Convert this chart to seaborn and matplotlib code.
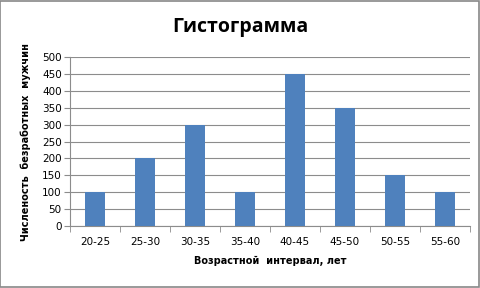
import matplotlib
matplotlib.use("Agg")
import matplotlib.pyplot as plt
import seaborn as sns
import pandas as pd
from matplotlib.patches import Rectangle

categories = ["20-25", "25-30", "30-35", "35-40", "40-45", "45-50", "50-55", "55-60"]
values = [100, 200, 300, 100, 450, 350, 150, 100]
yticks = [0, 50, 100, 150, 200, 250, 300, 350, 400, 450, 500]

sns.set_style("white")
plt.rcParams['font.family'] = ['DejaVu Sans']
plt.rcParams['text.color'] = 'black'
plt.rcParams['axes.labelcolor'] = 'black'
plt.rcParams['xtick.color'] = 'black'
plt.rcParams['ytick.color'] = 'black'

df = pd.DataFrame({"cat": categories, "val": values})

fig = plt.figure(figsize=(4.8, 2.88), dpi=100)
ax = fig.add_axes([0.146, 0.215, 0.833, 0.587])
sns.barplot(data=df, x="cat", y="val", color="#4F81BD", saturation=1, width=0.4,
            linewidth=0, ax=ax, zorder=3)

ax.set_ylim(0, 500)
ax.set_xlim(-0.5, len(categories) - 0.5)
ax.set_yticks(yticks)
ax.yaxis.grid(True, color="#8C8C8C", linewidth=0.8, zorder=0)
ax.set_axisbelow(True)
for s in ["top", "right"]:
    ax.spines[s].set_visible(False)
for s in ["left", "bottom"]:
    ax.spines[s].set_color("#8C8C8C")
    ax.spines[s].set_linewidth(0.8)

ax.tick_params(axis="y", labelsize=7.5, length=4, color="#8C8C8C", labelcolor="black",
               direction="out", pad=2, left=True)
ax.tick_params(axis="x", labelsize=7.5, length=0, pad=8, labelcolor="black")
ax.set_xticks(range(len(categories)))
ax.set_xticklabels(categories)
ax.set_xticks([i + 0.5 for i in range(-1, len(categories))], minor=True)
ax.tick_params(axis="x", which="minor", length=4, color="#8C8C8C", direction="out", bottom=True)

ax.set_xlabel("Возрастной  интервал, лет", fontsize=7, fontweight="bold", labelpad=6, color="black")
ax.set_ylabel("Численость  безработных  мужчин", fontsize=7, fontweight="bold", labelpad=8, color="black")

fig.text(0.5, 0.905, "Гистограмма", ha="center", va="center", fontsize=14, fontweight="bold",
         color="black", family=["Open Sans", "DejaVu Sans"])

fig.patches.append(Rectangle((0.001, 0.002), 0.997, 0.995, transform=fig.transFigure,
                             fill=False, edgecolor="#888888", linewidth=1.2))

fig.savefig("out.png", dpi=100)
